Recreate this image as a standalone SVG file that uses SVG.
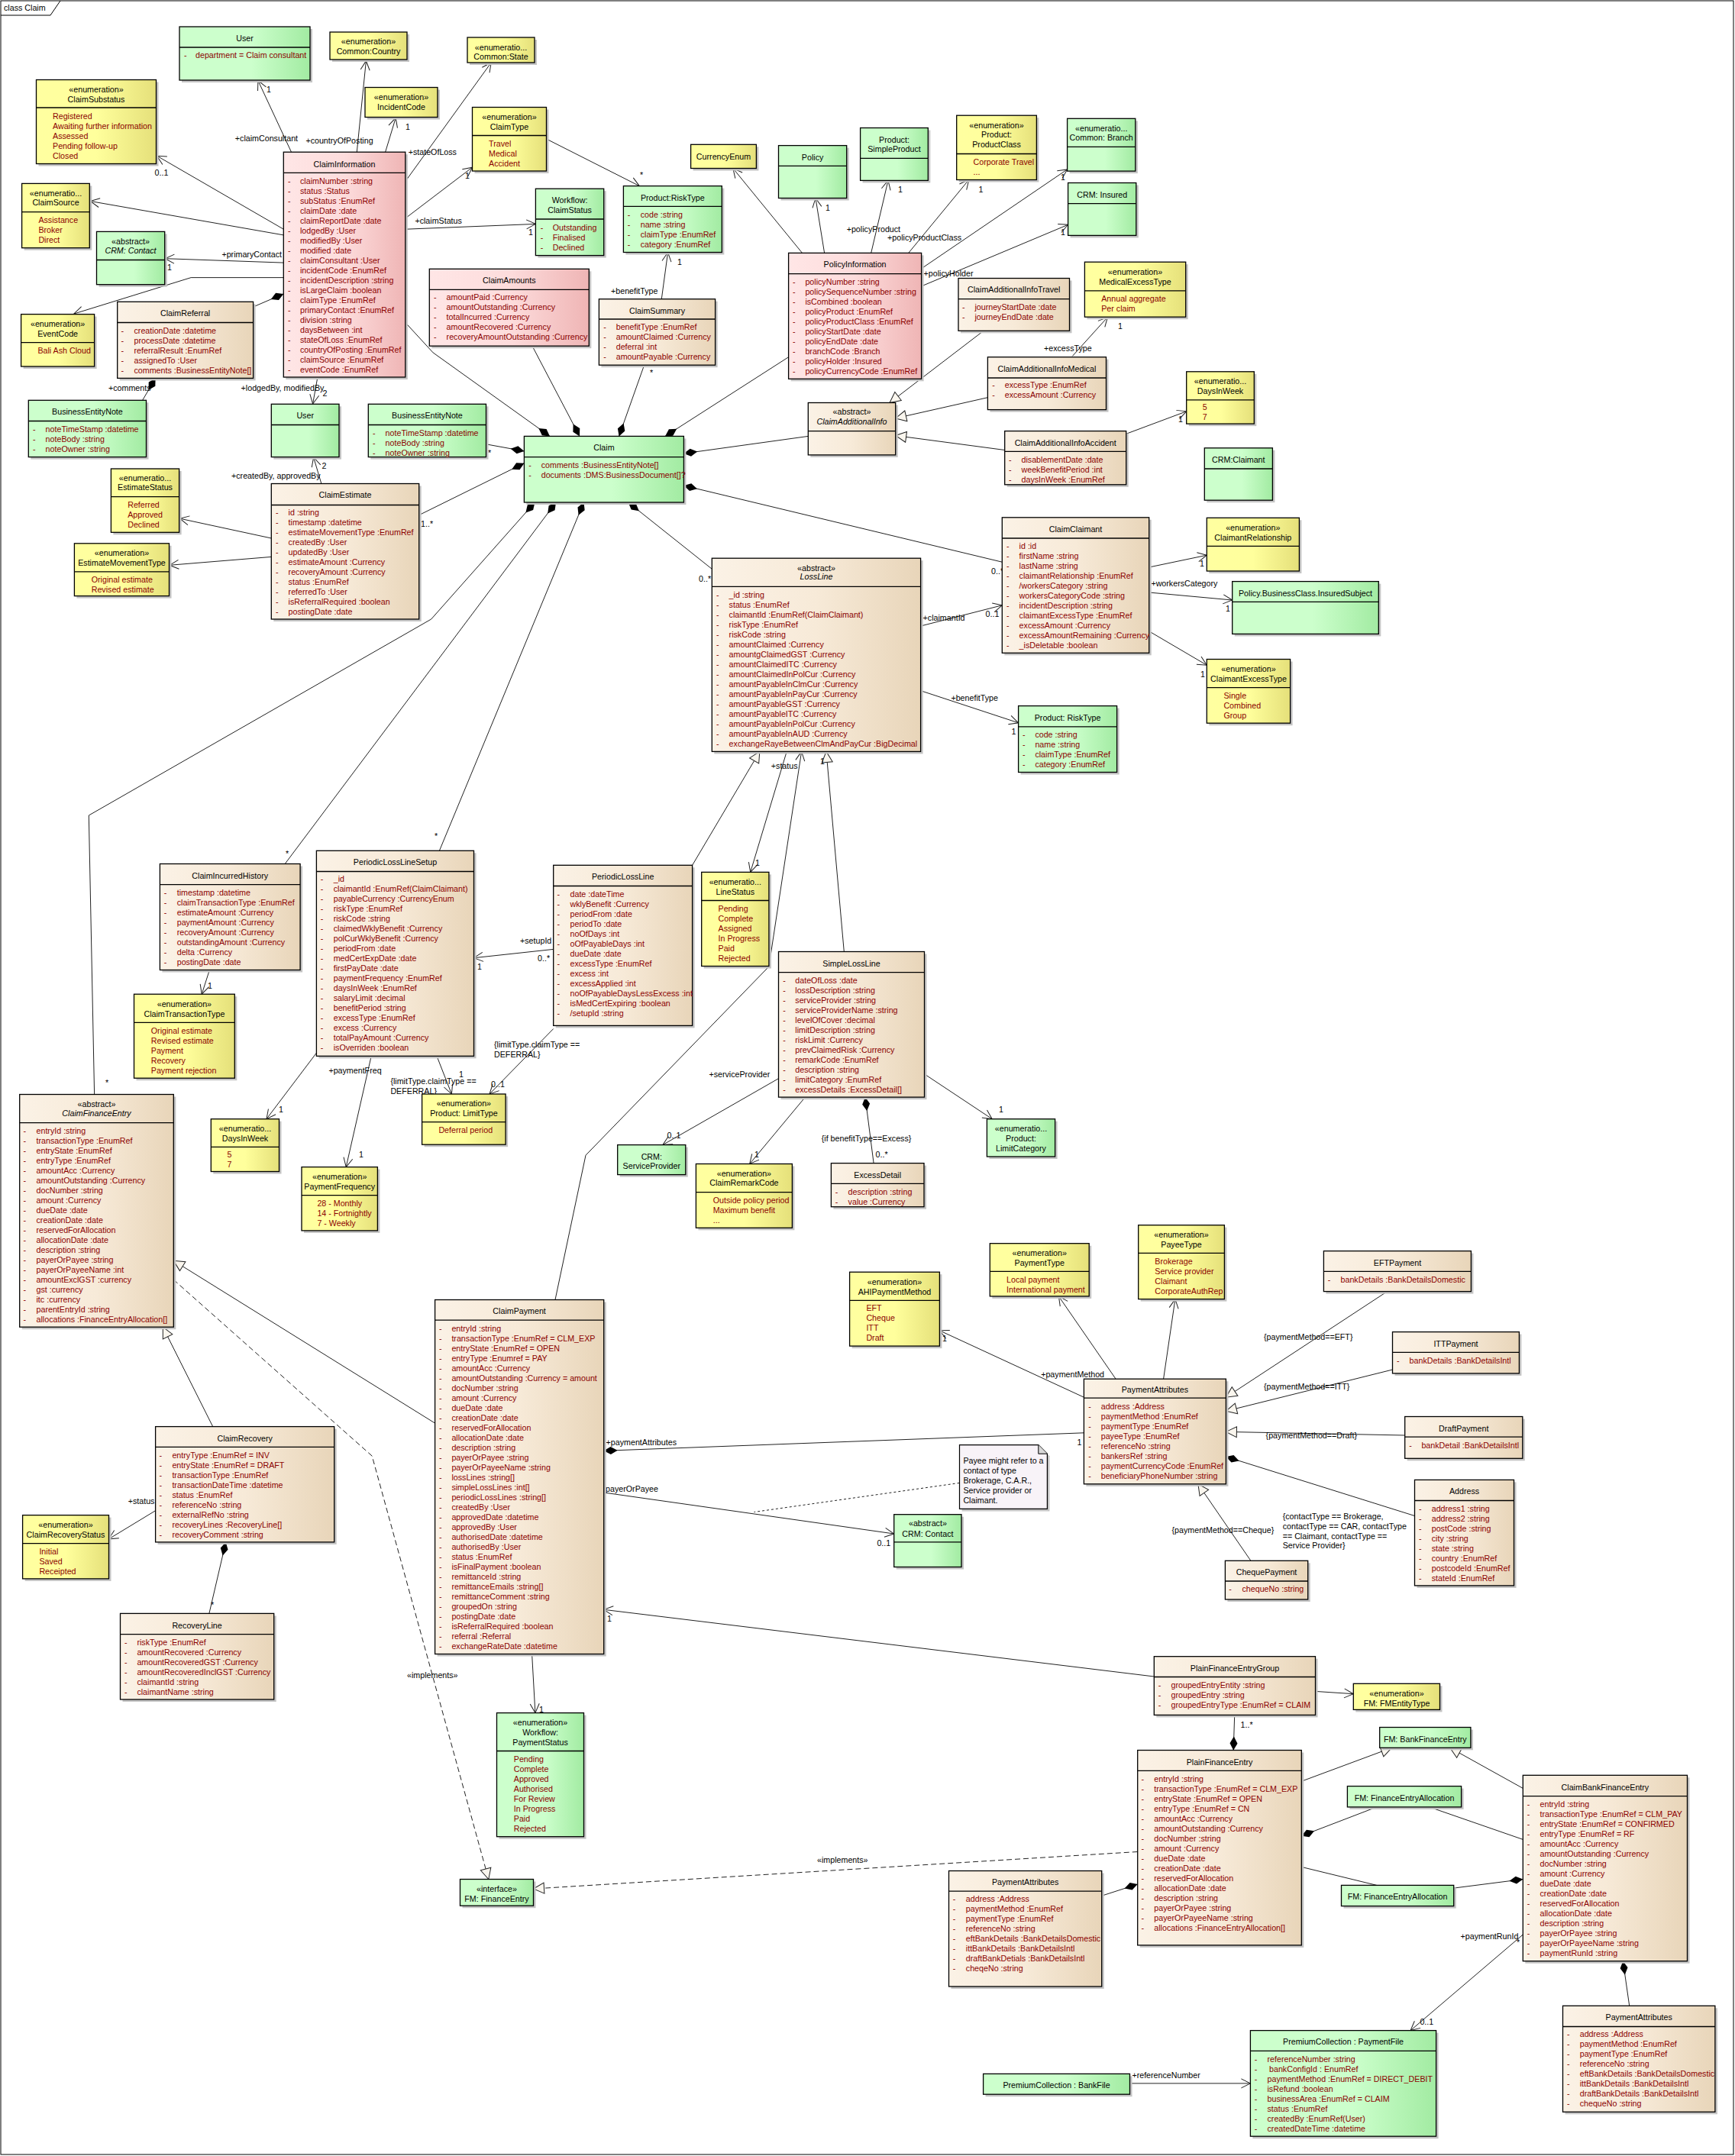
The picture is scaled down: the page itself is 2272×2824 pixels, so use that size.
<svg xmlns="http://www.w3.org/2000/svg" width="2272" height="2824" viewBox="0 0 2272 2824">
<defs>
<linearGradient id="gG" x1="0" y1="0" x2="1" y2="0"><stop offset="0" stop-color="#CCFFCC"/><stop offset="0.55" stop-color="#CCFFCC"/><stop offset="1" stop-color="#A2EBA2"/></linearGradient>
<linearGradient id="gY" x1="0" y1="0" x2="1" y2="0"><stop offset="0" stop-color="#FFFFA0"/><stop offset="0.5" stop-color="#FFFF9C"/><stop offset="1" stop-color="#E5E07A"/></linearGradient>
<linearGradient id="gP" x1="0" y1="0" x2="1" y2="0"><stop offset="0" stop-color="#FFE6E6"/><stop offset="0.5" stop-color="#FDDCDC"/><stop offset="1" stop-color="#EFB5B5"/></linearGradient>
<linearGradient id="gB" x1="0" y1="0" x2="1" y2="0"><stop offset="0" stop-color="#FBF2E6"/><stop offset="0.5" stop-color="#F7EAD8"/><stop offset="1" stop-color="#E8D5B9"/></linearGradient>
<marker id="oa" markerWidth="14" markerHeight="14" refX="12" refY="6" orient="auto" markerUnits="userSpaceOnUse" overflow="visible"><path d="M0,0 L12,6 L0,12" fill="none" stroke="#222" stroke-width="1"/></marker>
<marker id="tr" markerWidth="16" markerHeight="16" refX="14" refY="7" orient="auto" markerUnits="userSpaceOnUse" overflow="visible"><path d="M0,0 L14,7 L0,14 Z" fill="#FAF6EE" stroke="#222" stroke-width="1"/></marker>
<marker id="dm" markerWidth="20" markerHeight="12" refX="0" refY="5" orient="auto" markerUnits="userSpaceOnUse" overflow="visible"><path d="M0,5 L9,0 L18,5 L9,10 Z" fill="#000"/></marker>
</defs>
<style>
.n{stroke:#000;stroke-width:1.3}
.s{fill:#C4C4C4}
.G{fill:url(#gG)} .Y{fill:url(#gY)} .P{fill:url(#gP)} .B{fill:url(#gB)}
.dv{stroke:#000;stroke-width:1.3}
text{font-family:"Liberation Sans",Arial,sans-serif;font-size:10.7px}
.t{fill:#000;text-anchor:middle}
.i{font-style:italic}
.a{fill:#8B0000}
.l{fill:#000}
.c{fill:none;stroke:#222;stroke-width:1}
.dash{stroke-dasharray:7,4}
.dot{stroke-dasharray:3,3}
.ar{marker-end:url(#oa)} .tri{marker-end:url(#tr)} .dia{marker-start:url(#dm)}
</style>
<g id="frame"><rect x="1" y="1" width="2269" height="2821" fill="#fff" stroke="#000"/><path d="M1,20 H66 L79,1" fill="none" stroke="#000"/><text class="l" x="5" y="14">class Claim</text></g>

<g id="connectors">
<path class="c ar" d="M381.5,199.2 L337.9,105.5"/>
<path class="c ar" d="M467.3,199.2 L479.4,79.7"/>
<path class="c ar" d="M504.6,199.2 L518.2,154.4"/>
<path class="c ar" d="M531.7,236.4 L643.2,82"/>
<path class="c ar" d="M531.7,285.3 L618.5,219.2"/>
<path class="c ar" d="M531.7,300.2 L701.4,293.4"/>
<path class="c ar" d="M371.3,300.2 L205.5,204.2"/>
<path class="c ar" d="M371.3,307.9 L118.3,263.5"/>
<path class="c ar" d="M371.3,344.1 L216.2,338.7"/>
<path class="c ar" d="M371.3,363.6 L250.1,363.6 L96.9,411"/>
<path class="c dia" d="M371.3,384.9 L331.6,402"/>
<path class="c dia" d="M203.6,495.4 L186.6,524.3"/>
<path class="c ar" d="M415.9,494 L409.6,529"/>
<path class="c ar" d="M420.7,633 L410.6,599"/>
<path class="c ar" d="M355.3,705 L235.5,679.2"/>
<path class="c ar" d="M355.3,729.4 L222,740.3"/>
<path class="c dia" d="M720,571.4 L567.1,461.9 L531.7,423.4"/>
<path class="c dia" d="M759,571.4 L697,453.2"/>
<path class="c dia" d="M686.4,590.9 L636.5,581.8"/>
<path class="c dia" d="M686.4,606.7 L548.7,674.7"/>
<path class="c dia" d="M700.4,658 L564.7,811 L116.3,1068 L123.6,1433.5"/>
<path class="c dia" d="M728,658 L373.2,1131.5"/>
<path class="c dia" d="M764.5,658 L575.4,1114.3"/>
<path class="c dia" d="M822.7,658 L932.3,745.3"/>
<path class="c dia" d="M895.4,636 L1312.3,736.2"/>
<path class="c dia" d="M895.4,594 L1058.3,571.4"/>
<path class="c dia" d="M871,571.4 L1032.6,467.7"/>
<path class="c dia" d="M810.6,571.4 L843.6,478.2"/>
<path class="c ar" d="M866.3,391.7 L874.6,330.5"/>
<path class="c ar" d="M715.5,182 L837.3,243.6"/>
<path class="c ar" d="M1050.5,331.4 L959.9,220.5"/>
<path class="c ar" d="M1079.6,331.4 L1068,259.5"/>
<path class="c ar" d="M1140.7,331.4 L1163,236.4"/>
<path class="c ar" d="M1189.7,331.4 L1268.7,235.5"/>
<path class="c ar" d="M1206.6,351.8 L1397.6,221.9"/>
<path class="c ar" d="M1206.6,374.9 L1398.6,294.3"/>
<path class="c tri" d="M1288,433.3 L1165,527.5"/>
<path class="c tri" d="M1293.4,520.7 L1172.7,547.9"/>
<path class="c tri" d="M1315.7,589.5 L1172.7,570.5"/>
<path class="c ar" d="M1404.4,466.4 L1450.4,415.5"/>
<path class="c ar" d="M1474.7,568.3 L1553.7,538.8"/>
<path class="c ar" d="M1504.7,743 L1580.3,727.2"/>
<path class="c ar" d="M1504.7,776 L1613.7,786"/>
<path class="c ar" d="M1504.7,826.8 L1580.3,871.2"/>
<path class="c ar" d="M1205.6,820 L1312.3,792.8"/>
<path class="c ar" d="M1205.6,904.7 L1333.6,946.8"/>
<path class="c ar" d="M1030.2,984.4 L982.7,1142.4"/>
<path class="c tri" d="M906.6,1133.3 L994.8,984.4"/>
<path class="c tri" d="M1105.3,1246.5 L1082,984.4"/>
<path class="c ar" d="M727,1702.5 L767,1513.2 L1006.9,1266 L1049.6,984.4"/>
<path class="c ar" d="M724.7,1243.4 L620.5,1254.7"/>
<path class="c ar" d="M724.7,1347.5 L641,1433"/>
<path class="c ar" d="M572,1383.3 L591.4,1433"/>
<path class="c ar" d="M414.4,1379.2 L349,1465.7"/>
<path class="c ar" d="M486.2,1383.3 L453.2,1528.6"/>
<path class="c ar" d="M274.4,1270.5 L264.2,1302.2"/>
<path class="c tri" d="M278.7,1868.6 L213.3,1738.2"/>
<path class="c tri" d="M569.6,1864.1 L227.3,1651.3"/>
<path class="c dash tri" d="M227.3,1676.2 L487.2,1907.1 L639.8,2461.5"/>
<path class="c dia" d="M295.7,2019.9 L273.9,2113.4"/>
<path class="c ar" d="M203.6,1978.7 L142.5,2015.8"/>
<path class="c ar" d="M696.6,2166.5 L700.9,2243.6"/>
<path class="c dia" d="M790.7,1900.3 L1419.4,1876.8"/>
<path class="c ar" d="M790.7,1955 L1170.7,2009"/>
<path class="c dot" d="M1256.5,1942.4 L987.5,1980.5"/>
<path class="c ar" d="M1511.3,2196 L790.7,2108.3"/>
<path class="c ar" d="M1722.5,2215.4 L1772.3,2218.7"/>
<path class="c dia" d="M1615.2,2292.5 L1616.7,2246.4"/>
<path class="c tri" d="M1704.3,2333.2 L1822.5,2289.3"/>
<path class="c tri" d="M1994.3,2342.4 L1898.8,2289.3"/>
<path class="c dia" d="M1704.3,2404.7 L1802.8,2366.9"/>
<path class="c" d="M1871.7,2366.9 L1994.3,2409.4"/>
<path class="c" d="M1704.3,2445.4 L1802.8,2469.4"/>
<path class="c dia" d="M1994.3,2461.5 L1903.7,2473.1"/>
<path class="c dash tri" d="M1489.7,2425.5 L698.5,2474"/>
<path class="c dia" d="M1489.7,2468 L1442.7,2483.2"/>
<path class="c dia" d="M2125.3,2568.7 L2133.7,2627.3"/>
<path class="c ar" d="M1994.3,2534 L1847.1,2659.6"/>
<path class="c ar" d="M1479.5,2728.9 L1637.4,2728.9"/>
<path class="c ar" d="M1419.4,1830.2 L1230.4,1742.8"/>
<path class="c ar" d="M1461.1,1806.2 L1386.4,1697.9"/>
<path class="c ar" d="M1523.6,1806.2 L1538.9,1701.6"/>
<path class="c tri" d="M1816.6,1691.6 L1605.4,1830.2"/>
<path class="c tri" d="M1823.5,1794 L1605.4,1848.3"/>
<path class="c tri" d="M1839.7,1880 L1605.4,1875.4"/>
<path class="c dia" d="M1605.4,1908 L1852.5,1985.5"/>
<path class="c tri" d="M1637.9,2044.3 L1568.9,1943.8"/>
<path class="c ar" d="M1019.5,1412.7 L867.8,1499.6"/>
<path class="c ar" d="M1054.4,1437.1 L981.7,1524.5"/>
<path class="c dia" d="M1133,1437.1 L1144.1,1523.6"/>
<path class="c ar" d="M1210.5,1406.8 L1299.2,1465.7"/>
<text class="l" x="307.8" y="185">+claimConsultant</text>
<text class="l" x="349" y="121">1</text>
<text class="l" x="400.4" y="188">+countryOfPosting</text>
<text class="l" x="531" y="170">1</text>
<text class="l" x="534.7" y="203">+stateOfLoss</text>
<text class="l" x="609" y="234">1</text>
<text class="l" x="543.4" y="293">+claimStatus</text>
<text class="l" x="692" y="308">1</text>
<text class="l" x="202.6" y="229.5">0..1</text>
<text class="l" x="290.4" y="336.8">+primaryContact</text>
<text class="l" x="219" y="354">1</text>
<text class="l" x="142" y="511.6">+comments</text>
<text class="l" x="315.6" y="511.6">+lodgedBy, modifiedBy</text>
<text class="l" x="422.5" y="519">2</text>
<text class="l" x="303" y="626.6">+createdBy, approvedBy</text>
<text class="l" x="421.5" y="614">2</text>
<text class="l" x="639" y="597">*</text>
<text class="l" x="551" y="690">1..*</text>
<text class="l" x="138" y="1422">*</text>
<text class="l" x="374" y="1122">*</text>
<text class="l" x="569" y="1099">*</text>
<text class="l" x="915" y="761.5">0..*</text>
<text class="l" x="1298" y="751.5">0..*</text>
<text class="l" x="851" y="492">*</text>
<text class="l" x="800" y="384.8">+benefitType</text>
<text class="l" x="887" y="346.8">1</text>
<text class="l" x="838" y="232.7">*</text>
<text class="l" x="1081" y="275.7">1</text>
<text class="l" x="1108.7" y="303.8">+policyProduct</text>
<text class="l" x="1176" y="252">1</text>
<text class="l" x="1162" y="314.6">+policyProductClass</text>
<text class="l" x="1281.5" y="251.7">1</text>
<text class="l" x="1389" y="236.3">1</text>
<text class="l" x="1209.5" y="362">+policyHolder</text>
<text class="l" x="1389" y="308.3">1</text>
<text class="l" x="1367" y="460.4">+excessType</text>
<text class="l" x="1464" y="431.4">1</text>
<text class="l" x="1543" y="553.2">1</text>
<text class="l" x="1571" y="742">1</text>
<text class="l" x="1507.4" y="767.8">+workersCategory</text>
<text class="l" x="1605" y="801.3">1</text>
<text class="l" x="1572" y="886.5">1</text>
<text class="l" x="1208.6" y="812.7">+claimantId</text>
<text class="l" x="1290.5" y="808">0..1</text>
<text class="l" x="1245.4" y="917.7">+benefitType</text>
<text class="l" x="1324.5" y="961.6">1</text>
<text class="l" x="1009.8" y="1006.5">+status</text>
<text class="l" x="989" y="1134">1</text>
<text class="l" x="1074" y="1001">1</text>
<text class="l" x="681" y="1235.6">+setupId</text>
<text class="l" x="704" y="1258.7">0..*</text>
<text class="l" x="625" y="1270">1</text>
<text class="l" x="647" y="1371.9">{limitType.claimType ==</text>
<text class="l" x="647" y="1384.6">DEFERRAL}</text>
<text class="l" x="643" y="1424.4">0..1</text>
<text class="l" x="511.4" y="1419.8">{limitType.claimType ==</text>
<text class="l" x="511.4" y="1432.5">DEFERRAL}</text>
<text class="l" x="601" y="1410.5">1</text>
<text class="l" x="365" y="1457.4">1</text>
<text class="l" x="430.4" y="1405.8">+paymentFreq</text>
<text class="l" x="470" y="1516.3">1</text>
<text class="l" x="272" y="1295">1</text>
<text class="l" x="533" y="2197.7">«implements»</text>
<text class="l" x="276" y="2106">*</text>
<text class="l" x="167.7" y="1970.4">+status</text>
<text class="l" x="706" y="2243.4">1</text>
<text class="l" x="793.6" y="1893">+paymentAttributes</text>
<text class="l" x="1410.5" y="1893">1</text>
<text class="l" x="786.8" y="1953.7">+payerOrPayee</text>
<text class="l" x="1148.4" y="2025.2">0..1</text>
<text class="l" x="795" y="2124">1</text>
<text class="l" x="1624.6" y="2263.3">1..*</text>
<text class="l" x="1070" y="2439.7">«implements»</text>
<text class="l" x="1912.6" y="2539.9">+paymentRunId</text>
<text class="l" x="1986" y="2548.2">*</text>
<text class="l" x="1859.4" y="2651.6">0..1</text>
<text class="l" x="1482.4" y="2721.8">+referenceNumber</text>
<text class="l" x="1363.2" y="1803.8">+paymentMethod</text>
<text class="l" x="1234" y="1757.2">1</text>
<text class="l" x="1655" y="1755">{paymentMethod==EFT}</text>
<text class="l" x="1655" y="1819.7">{paymentMethod==ITT}</text>
<text class="l" x="1657.6" y="1884">{paymentMethod==Draft}</text>
<text class="l" x="1679.7" y="1990">{contactType == Brokerage,</text>
<text class="l" x="1679.7" y="2002.6">contactType == CAR, contactType</text>
<text class="l" x="1679.7" y="2015.7">== Claimant, contactType ==</text>
<text class="l" x="1679.7" y="2028.4">Service Provider}</text>
<text class="l" x="1534.5" y="2007.6">{paymentMethod==Cheque}</text>
<text class="l" x="928.4" y="1410.8">+serviceProvider</text>
<text class="l" x="873.6" y="1491.4">0..1</text>
<text class="l" x="988" y="1516.3">1</text>
<text class="l" x="1075.7" y="1494.6">{if benefitType==Excess}</text>
<text class="l" x="1146.5" y="1516.3">0..*</text>
<text class="l" x="1308" y="1457.4">1</text>
</g>

<g id="User_top"><rect class="s" x="238" y="38" width="171" height="70"/><rect class="n G" x="235" y="35" width="171" height="70"/><line class="dv" x1="235" y1="62" x2="406" y2="62"/><text class="t" x="320.5" y="54">User</text><text class="a"><tspan x="241" y="76">-</tspan><tspan x="256">department = Claim consultant</tspan></text></g>

<g id="Common_Country"><rect class="s" x="435" y="45" width="101" height="36"/><rect class="n Y" x="432" y="42" width="101" height="36"/><text class="t" x="482.5" y="58">«enumeration»</text><text class="t" x="482.5" y="70.5">Common:Country</text></g>

<g id="Common_State"><rect class="s" x="615" y="52" width="88" height="33"/><rect class="n Y" x="612" y="49" width="88" height="33"/><text class="t" x="656" y="66">«enumeratio...</text><text class="t" x="656" y="78">Common:State</text></g>

<g id="IncidentCode"><rect class="s" x="481" y="117.5" width="95" height="39"/><rect class="n Y" x="478" y="114.5" width="95" height="39"/><text class="t" x="525.5" y="131">«enumeration»</text><text class="t" x="525.5" y="143.5">IncidentCode</text></g>

<g id="ClaimSubstatus"><rect class="s" x="50.5" y="107.5" width="157" height="110"/><rect class="n Y" x="47.5" y="104.5" width="157" height="110"/><line class="dv" x1="47.5" y1="141" x2="204.5" y2="141"/><text class="t" x="126" y="121">«enumeration»</text><text class="t" x="126" y="133.5">ClaimSubstatus</text><text class="a"><tspan x="69" y="155.7">Registered</tspan><tspan x="69" dy="13">Awaiting further information</tspan><tspan x="69" dy="13">Assessed</tspan><tspan x="69" dy="13">Pending follow-up</tspan><tspan x="69" dy="13">Closed</tspan></text></g>

<g id="ClaimType"><rect class="s" x="621.5" y="143.5" width="97" height="83.5"/><rect class="n Y" x="618.5" y="140.5" width="97" height="83.5"/><line class="dv" x1="618.5" y1="177.5" x2="715.5" y2="177.5"/><text class="t" x="667" y="157">«enumeration»</text><text class="t" x="667" y="169.7">ClaimType</text><text class="a"><tspan x="640" y="191.5">Travel</tspan><tspan x="640" dy="13">Medical</tspan><tspan x="640" dy="13">Accident</tspan></text></g>

<g id="ClaimSource"><rect class="s" x="31.6" y="243.4" width="88.7" height="84.3"/><rect class="n Y" x="28.6" y="240.4" width="88.7" height="84.3"/><line class="dv" x1="28.6" y1="277.6" x2="117.3" y2="277.6"/><text class="t" x="73" y="256.7">«enumeratio...</text><text class="t" x="73" y="269.3">ClaimSource</text><text class="a"><tspan x="50.4" y="292">Assistance</tspan><tspan x="50.4" dy="13">Broker</tspan><tspan x="50.4" dy="13">Direct</tspan></text></g>

<g id="CRM_Contact_top"><rect class="s" x="129.5" y="306.4" width="89.2" height="69.3"/><rect class="n G" x="126.5" y="303.4" width="89.2" height="69.3"/><line class="dv" x1="126.5" y1="340.5" x2="215.7" y2="340.5"/><text class="t" x="171" y="319.6">«abstract»</text><text class="t i" x="171" y="331.8">CRM: Contact</text></g>

<g id="EventCode"><rect class="s" x="30.6" y="414.6" width="96" height="68.4"/><rect class="n Y" x="27.6" y="411.6" width="96" height="68.4"/><line class="dv" x1="27.6" y1="448.7" x2="123.6" y2="448.7"/><text class="t" x="75.6" y="427.8">«enumeration»</text><text class="t" x="75.6" y="440.5">EventCode</text><text class="a" x="49.4" y="462.7">Bali Ash Cloud</text></g>

<g id="ClaimInformation"><rect class="s" x="374.3" y="202.2" width="159.5" height="294.8"/><rect class="n P" x="371.3" y="199.2" width="159.5" height="294.8"/><line class="dv" x1="371.3" y1="226.4" x2="530.8" y2="226.4"/><text class="t" x="451" y="218.6">ClaimInformation</text><text class="a"><tspan x="377" y="240.8">-</tspan><tspan x="393">claimNumber :string</tspan><tspan x="377" dy="13">-</tspan><tspan x="393">status :Status</tspan><tspan x="377" dy="13">-</tspan><tspan x="393">subStatus :EnumRef</tspan><tspan x="377" dy="13">-</tspan><tspan x="393">claimDate :date</tspan><tspan x="377" dy="13">-</tspan><tspan x="393">claimReportDate :date</tspan><tspan x="377" dy="13">-</tspan><tspan x="393">lodgedBy :User</tspan><tspan x="377" dy="13">-</tspan><tspan x="393">modifiedBy :User</tspan><tspan x="377" dy="13">-</tspan><tspan x="393">modified :date</tspan><tspan x="377" dy="13">-</tspan><tspan x="393">claimConsultant :User</tspan><tspan x="377" dy="13">-</tspan><tspan x="393">incidentCode :EnumRef</tspan><tspan x="377" dy="13">-</tspan><tspan x="393">incidentDescription :string</tspan><tspan x="377" dy="13">-</tspan><tspan x="393">isLargeClaim :boolean</tspan><tspan x="377" dy="13">-</tspan><tspan x="393">claimType :EnumRef</tspan><tspan x="377" dy="13">-</tspan><tspan x="393">primaryContact :EnumRef</tspan><tspan x="377" dy="13">-</tspan><tspan x="393">division :string</tspan><tspan x="377" dy="13">-</tspan><tspan x="393">daysBetween :int</tspan><tspan x="377" dy="13">-</tspan><tspan x="393">stateOfLoss :EnumRef</tspan><tspan x="377" dy="13">-</tspan><tspan x="393">countryOfPosting :EnumRef</tspan><tspan x="377" dy="13">-</tspan><tspan x="393">claimSource :EnumRef</tspan><tspan x="377" dy="13">-</tspan><tspan x="393">eventCode :EnumRef</tspan></text></g>

<g id="ClaimReferral"><rect class="s" x="156.7" y="398.3" width="177.9" height="100.1"/><rect class="n B" x="153.7" y="395.3" width="177.9" height="100.1"/><line class="dv" x1="153.7" y1="422.5" x2="331.6" y2="422.5"/><text class="t" x="242.6" y="414.2">ClaimReferral</text><text class="a"><tspan x="158.5" y="436.9">-</tspan><tspan x="175.5">creationDate :datetime</tspan><tspan x="158.5" dy="13">-</tspan><tspan x="175.5">processDate :datetime</tspan><tspan x="158.5" dy="13">-</tspan><tspan x="175.5">referralResult :EnumRef</tspan><tspan x="158.5" dy="13">-</tspan><tspan x="175.5">assignedTo :User</tspan><tspan x="158.5" dy="13">-</tspan><tspan x="175.5">comments :BusinessEntityNote[]</tspan></text></g>

<g id="BusinessEntityNote_left"><rect class="s" x="40.3" y="527.3" width="154.2" height="74.3"/><rect class="n G" x="37.3" y="524.3" width="154.2" height="74.3"/><line class="dv" x1="37.3" y1="551.5" x2="191.5" y2="551.5"/><text class="t" x="114.4" y="543.3">BusinessEntityNote</text><text class="a"><tspan x="43" y="566">-</tspan><tspan x="59.6">noteTimeStamp :datetime</tspan><tspan x="43" dy="13">-</tspan><tspan x="59.6">noteBody :string</tspan><tspan x="43" dy="13">-</tspan><tspan x="59.6">noteOwner :string</tspan></text></g>

<g id="User_mid"><rect class="s" x="358.3" y="532.3" width="88.7" height="69.3"/><rect class="n G" x="355.3" y="529.3" width="88.7" height="69.3"/><line class="dv" x1="355.3" y1="556.5" x2="444" y2="556.5"/><text class="t" x="399.7" y="548.3">User</text></g>

<g id="BusinessEntityNote_right"><rect class="s" x="485.3" y="532.3" width="154.2" height="69.3"/><rect class="n G" x="482.3" y="529.3" width="154.2" height="69.3"/><line class="dv" x1="482.3" y1="556.5" x2="636.5" y2="556.5"/><text class="t" x="559.4" y="548.3">BusinessEntityNote</text><text class="a"><tspan x="488" y="571">-</tspan><tspan x="504.6">noteTimeStamp :datetime</tspan><tspan x="488" dy="13">-</tspan><tspan x="504.6">noteBody :string</tspan><tspan x="488" dy="13">-</tspan><tspan x="504.6">noteOwner :string</tspan></text></g>

<g id="EstimateStatus"><rect class="s" x="148.4" y="617" width="89.2" height="83.3"/><rect class="n Y" x="145.4" y="614" width="89.2" height="83.3"/><line class="dv" x1="145.4" y1="650.7" x2="234.6" y2="650.7"/><text class="t" x="190" y="629.8">«enumeratio...</text><text class="t" x="190" y="642.4">EstimateStatus</text><text class="a"><tspan x="167.2" y="664.6">Referred</tspan><tspan x="167.2" dy="13">Approved</tspan><tspan x="167.2" dy="13">Declined</tspan></text></g>

<g id="ClaimEstimate"><rect class="s" x="358.3" y="636.5" width="193.4" height="177.5"/><rect class="n B" x="355.3" y="633.5" width="193.4" height="177.5"/><line class="dv" x1="355.3" y1="661.5" x2="548.7" y2="661.5"/><text class="t" x="452" y="652.4">ClaimEstimate</text><text class="a"><tspan x="361" y="674.6">-</tspan><tspan x="377.6">id :string</tspan><tspan x="361" dy="13">-</tspan><tspan x="377.6">timestamp :datetime</tspan><tspan x="361" dy="13">-</tspan><tspan x="377.6">estimateMovementType :EnumRef</tspan><tspan x="361" dy="13">-</tspan><tspan x="377.6">createdBy :User</tspan><tspan x="361" dy="13">-</tspan><tspan x="377.6">updatedBy :User</tspan><tspan x="361" dy="13">-</tspan><tspan x="377.6">estimateAmount :Currency</tspan><tspan x="361" dy="13">-</tspan><tspan x="377.6">recoveryAmount :Currency</tspan><tspan x="361" dy="13">-</tspan><tspan x="377.6">status :EnumRef</tspan><tspan x="361" dy="13">-</tspan><tspan x="377.6">referredTo :User</tspan><tspan x="361" dy="13">-</tspan><tspan x="377.6">isReferralRequired :boolean</tspan><tspan x="361" dy="13">-</tspan><tspan x="377.6">postingDate :date</tspan></text></g>

<g id="Claim"><rect class="s" x="689.4" y="574.4" width="209" height="86.6"/><rect class="n G" x="686.4" y="571.4" width="209" height="86.6"/><line class="dv" x1="686.4" y1="598.6" x2="895.4" y2="598.6"/><text class="t" x="790.9" y="590.4">Claim</text><text class="a"><tspan x="692.2" y="612.6">-</tspan><tspan x="708.7">comments :BusinessEntityNote[]</tspan><tspan x="692.2" dy="13">-</tspan><tspan x="708.7">documents :DMS:BusinessDocument[]?</tspan></text></g>

<g id="Workflow_ClaimStatus"><rect class="s" x="704.4" y="250.2" width="89.3" height="87.4"/><rect class="n G" x="701.4" y="247.2" width="89.3" height="87.4"/><line class="dv" x1="701.4" y1="287" x2="790.7" y2="287"/><text class="t" x="746" y="266">Workflow:</text><text class="t" x="746" y="279.3">ClaimStatus</text><text class="a"><tspan x="707.7" y="301.5">-</tspan><tspan x="723.7">Outstanding</tspan><tspan x="707.7" dy="13">-</tspan><tspan x="723.7">Finalised</tspan><tspan x="707.7" dy="13">-</tspan><tspan x="723.7">Declined</tspan></text></g>

<g id="ClaimAmounts"><rect class="s" x="565.3" y="355.3" width="209" height="100.9"/><rect class="n P" x="562.3" y="352.3" width="209" height="100.9"/><line class="dv" x1="562.3" y1="379.4" x2="771.3" y2="379.4"/><text class="t" x="666.8" y="371.2">ClaimAmounts</text><text class="a"><tspan x="568" y="393.4">-</tspan><tspan x="584.6">amountPaid :Currency</tspan><tspan x="568" dy="13">-</tspan><tspan x="584.6">amountOutstanding :Currency</tspan><tspan x="568" dy="13">-</tspan><tspan x="584.6">totalIncurred :Currency</tspan><tspan x="568" dy="13">-</tspan><tspan x="584.6">amountRecovered :Currency</tspan><tspan x="568" dy="13">-</tspan><tspan x="584.6">recoveryAmountOutstanding :Currency</tspan></text></g>

<g id="Product_RiskType_top"><rect class="s" x="819.4" y="246.6" width="128.9" height="86.9"/><rect class="n G" x="816.4" y="243.6" width="128.9" height="86.9"/><line class="dv" x1="816.4" y1="270.3" x2="945.3" y2="270.3"/><text class="t" x="880.8" y="262.5">Product:RiskType</text><text class="a"><tspan x="821.7" y="284.7">-</tspan><tspan x="838.7">code :string</tspan><tspan x="821.7" dy="13">-</tspan><tspan x="838.7">name :string</tspan><tspan x="821.7" dy="13">-</tspan><tspan x="838.7">claimType :EnumRef</tspan><tspan x="821.7" dy="13">-</tspan><tspan x="838.7">category :EnumRef</tspan></text></g>

<g id="CurrencyEnum"><rect class="s" x="907.6" y="192.3" width="85.8" height="31.2"/><rect class="n Y" x="904.6" y="189.3" width="85.8" height="31.2"/><text class="t" x="947.5" y="208.7">CurrencyEnum</text></g>

<g id="Policy"><rect class="s" x="1022.5" y="193.6" width="89.2" height="68.9"/><rect class="n G" x="1019.5" y="190.6" width="89.2" height="68.9"/><line class="dv" x1="1019.5" y1="217.3" x2="1108.7" y2="217.3"/><text class="t" x="1064.1" y="209.6">Policy</text></g>

<g id="Product_SimpleProduct"><rect class="s" x="1129.6" y="170.5" width="88.7" height="68.9"/><rect class="n G" x="1126.6" y="167.5" width="88.7" height="68.9"/><line class="dv" x1="1126.6" y1="207.4" x2="1215.3" y2="207.4"/><text class="t" x="1171" y="186.5">Product:</text><text class="t" x="1171" y="199.2">SimpleProduct</text></g>

<g id="Product_ProductClass"><rect class="s" x="1255.7" y="154.2" width="104.7" height="84.3"/><rect class="n Y" x="1252.7" y="151.2" width="104.7" height="84.3"/><line class="dv" x1="1252.7" y1="201.5" x2="1357.4" y2="201.5"/><text class="t" x="1305" y="167.5">«enumeration»</text><text class="t" x="1305" y="180.1">Product:</text><text class="t" x="1305" y="193.3">ProductClass</text><text class="a"><tspan x="1274.5" y="215.5">Corporate Travel</tspan><tspan x="1274.5" y="229">...</tspan></text></g>

<g id="Common_Branch"><rect class="s" x="1400.6" y="158.3" width="89.2" height="68.8"/><rect class="n G" x="1397.6" y="155.3" width="89.2" height="68.8"/><line class="dv" x1="1397.6" y1="192.4" x2="1486.8" y2="192.4"/><text class="t" x="1442.2" y="172">«enumeratio...</text><text class="t" x="1442.2" y="184.2">Common: Branch</text></g>

<g id="CRM_Insured"><rect class="s" x="1401.6" y="242.5" width="89.2" height="68.9"/><rect class="n G" x="1398.6" y="239.5" width="89.2" height="68.9"/><line class="dv" x1="1398.6" y1="266.7" x2="1487.8" y2="266.7"/><text class="t" x="1443.2" y="258.5">CRM: Insured</text></g>

<g id="ClaimSummary"><rect class="s" x="787.4" y="394.7" width="152.2" height="86.5"/><rect class="n B" x="784.4" y="391.7" width="152.2" height="86.5"/><line class="dv" x1="784.4" y1="418" x2="936.6" y2="418"/><text class="t" x="860.5" y="410.6">ClaimSummary</text><text class="a"><tspan x="790.2" y="432.3">-</tspan><tspan x="806.7">benefitType :EnumRef</tspan><tspan x="790.2" dy="13">-</tspan><tspan x="806.7">amountClaimed :Currency</tspan><tspan x="790.2" dy="13">-</tspan><tspan x="806.7">deferral :int</tspan><tspan x="790.2" dy="13">-</tspan><tspan x="806.7">amountPayable :Currency</tspan></text></g>

<g id="PolicyInformation"><rect class="s" x="1035.6" y="334.4" width="174" height="164.9"/><rect class="n P" x="1032.6" y="331.4" width="174" height="164.9"/><line class="dv" x1="1032.6" y1="358.6" x2="1206.6" y2="358.6"/><text class="t" x="1119.6" y="350.4">PolicyInformation</text><text class="a"><tspan x="1038" y="372.6">-</tspan><tspan x="1054.4">policyNumber :string</tspan><tspan x="1038" dy="13">-</tspan><tspan x="1054.4">policySequenceNumber :string</tspan><tspan x="1038" dy="13">-</tspan><tspan x="1054.4">isCombined :boolean</tspan><tspan x="1038" dy="13">-</tspan><tspan x="1054.4">policyProduct :EnumRef</tspan><tspan x="1038" dy="13">-</tspan><tspan x="1054.4">policyProductClass :EnumRef</tspan><tspan x="1038" dy="13">-</tspan><tspan x="1054.4">policyStartDate :date</tspan><tspan x="1038" dy="13">-</tspan><tspan x="1054.4">policyEndDate :date</tspan><tspan x="1038" dy="13">-</tspan><tspan x="1054.4">branchCode :Branch</tspan><tspan x="1038" dy="13">-</tspan><tspan x="1054.4">policyHolder :Insured</tspan><tspan x="1038" dy="13">-</tspan><tspan x="1054.4">policyCurrencyCode :EnumRef</tspan></text></g>

<g id="ClaimAdditionalInfoTravel"><rect class="s" x="1258" y="367.5" width="145.5" height="68.8"/><rect class="n B" x="1255" y="364.5" width="145.5" height="68.8"/><line class="dv" x1="1255" y1="391.7" x2="1400.5" y2="391.7"/><text class="t" x="1327.7" y="383.4">ClaimAdditionalInfoTravel</text><text class="a"><tspan x="1260" y="405.6">-</tspan><tspan x="1276.4">journeyStartDate :date</tspan><tspan x="1260" dy="13">-</tspan><tspan x="1276.4">journeyEndDate :date</tspan></text></g>

<g id="MedicalExcessType"><rect class="s" x="1423.4" y="346.2" width="132.3" height="72"/><rect class="n Y" x="1420.4" y="343.2" width="132.3" height="72"/><line class="dv" x1="1420.4" y1="380.8" x2="1552.7" y2="380.8"/><text class="t" x="1486.5" y="360">«enumeration»</text><text class="t" x="1486.5" y="372.6">MedicalExcessType</text><text class="a"><tspan x="1442.2" y="394.8">Annual aggregate</tspan><tspan x="1442.2" dy="13">Per claim</tspan></text></g>

<g id="ClaimAdditionalInfoMedical"><rect class="s" x="1296.4" y="470.7" width="155.1" height="68.9"/><rect class="n B" x="1293.4" y="467.7" width="155.1" height="68.9"/><line class="dv" x1="1293.4" y1="495" x2="1448.5" y2="495"/><text class="t" x="1371" y="486.7">ClaimAdditionalInfoMedical</text><text class="a"><tspan x="1299.2" y="508.4">-</tspan><tspan x="1315.7">excessType :EnumRef</tspan><tspan x="1299.2" dy="13">-</tspan><tspan x="1315.7">excessAmount :Currency</tspan></text></g>

<g id="ClaimAdditionalInfo"><rect class="s" x="1061.3" y="530.5" width="114.4" height="68.4"/><rect class="n B" x="1058.3" y="527.5" width="114.4" height="68.4"/><line class="dv" x1="1058.3" y1="564.6" x2="1172.7" y2="564.6"/><text class="t" x="1115.5" y="543.3">«abstract»</text><text class="t i" x="1115.5" y="555.5">ClaimAdditionalInfo</text></g>

<g id="ClaimAdditionalInfoAccident"><rect class="s" x="1318.7" y="567.6" width="159" height="70.2"/><rect class="n B" x="1315.7" y="564.6" width="159" height="70.2"/><line class="dv" x1="1315.7" y1="591.4" x2="1474.7" y2="591.4"/><text class="t" x="1395.2" y="583.6">ClaimAdditionalInfoAccident</text><text class="a"><tspan x="1321" y="605.8">-</tspan><tspan x="1337.5">disablementDate :date</tspan><tspan x="1321" dy="13">-</tspan><tspan x="1337.5">weekBenefitPeriod :int</tspan><tspan x="1321" dy="13">-</tspan><tspan x="1337.5">daysInWeek :EnumRef</tspan></text></g>

<g id="ClaimClaimant"><rect class="s" x="1315.3" y="680.8" width="192.4" height="177.5"/><rect class="n B" x="1312.3" y="677.8" width="192.4" height="177.5"/><line class="dv" x1="1312.3" y1="705" x2="1504.7" y2="705"/><text class="t" x="1408.5" y="696.8">ClaimClaimant</text><text class="a"><tspan x="1318" y="718.5">-</tspan><tspan x="1334.6">id :id</tspan><tspan x="1318" dy="13">-</tspan><tspan x="1334.6">firstName :string</tspan><tspan x="1318" dy="13">-</tspan><tspan x="1334.6">lastName :string</tspan><tspan x="1318" dy="13">-</tspan><tspan x="1334.6">claimantRelationship :EnumRef</tspan><tspan x="1318" dy="13">-</tspan><tspan x="1334.6">/workersCategory :string</tspan><tspan x="1318" dy="13">-</tspan><tspan x="1334.6">workersCategoryCode :string</tspan><tspan x="1318" dy="13">-</tspan><tspan x="1334.6">incidentDescription :string</tspan><tspan x="1318" dy="13">-</tspan><tspan x="1334.6">claimantExcessType :EnumRef</tspan><tspan x="1318" dy="13">-</tspan><tspan x="1334.6">excessAmount :Currency</tspan><tspan x="1318" dy="13">-</tspan><tspan x="1334.6">excessAmountRemaining :Currency</tspan><tspan x="1318" dy="13">-</tspan><tspan x="1334.6">_isDeletable :boolean</tspan></text></g>

<g id="DaysInWeek_right"><rect class="s" x="1556.7" y="489.8" width="88.6" height="68.3"/><rect class="n Y" x="1553.7" y="486.8" width="88.6" height="68.3"/><line class="dv" x1="1553.7" y1="523.9" x2="1642.3" y2="523.9"/><text class="t" x="1598" y="503">«enumeratio...</text><text class="t" x="1598" y="515.7">DaysInWeek</text><text class="a"><tspan x="1574.8" y="537.4">5</tspan><tspan x="1574.8" dy="13">7</tspan></text></g>

<g id="CRM_Claimant"><rect class="s" x="1580.3" y="589.8" width="89.1" height="68.4"/><rect class="n G" x="1577.3" y="586.8" width="89.1" height="68.4"/><line class="dv" x1="1577.3" y1="614" x2="1666.4" y2="614"/><text class="t" x="1621.8" y="605.8">CRM:Claimant</text></g>

<g id="ClaimantRelationship"><rect class="s" x="1583.3" y="681.3" width="121.1" height="69.7"/><rect class="n Y" x="1580.3" y="678.3" width="121.1" height="69.7"/><line class="dv" x1="1580.3" y1="715.4" x2="1701.4" y2="715.4"/><text class="t" x="1640.8" y="695">«enumeration»</text><text class="t" x="1640.8" y="707.6">ClaimantRelationship</text></g>

<g id="InsuredSubject"><rect class="s" x="1616.7" y="764.6" width="191.6" height="68.8"/><rect class="n G" x="1613.7" y="761.6" width="191.6" height="68.8"/><line class="dv" x1="1613.7" y1="788.3" x2="1805.3" y2="788.3"/><text class="t" x="1709.5" y="780.5">Policy.BusinessClass.InsuredSubject</text></g>

<g id="ClaimantExcessType"><rect class="s" x="1583.3" y="866.5" width="109.3" height="83.7"/><rect class="n Y" x="1580.3" y="863.5" width="109.3" height="83.7"/><line class="dv" x1="1580.3" y1="900.6" x2="1689.6" y2="900.6"/><text class="t" x="1635" y="879.7">«enumeration»</text><text class="t" x="1635" y="892.8">ClaimantExcessType</text><text class="a"><tspan x="1602.4" y="915">Single</tspan><tspan x="1602.4" dy="13">Combined</tspan><tspan x="1602.4" dy="13">Group</tspan></text></g>

<g id="EstimateMovementType"><rect class="s" x="100.4" y="714.8" width="124.1" height="68.8"/><rect class="n Y" x="97.4" y="711.8" width="124.1" height="68.8"/><line class="dv" x1="97.4" y1="748.9" x2="221.5" y2="748.9"/><text class="t" x="159.5" y="727.5">«enumeration»</text><text class="t" x="159.5" y="740.7">EstimateMovementType</text><text class="a"><tspan x="119.7" y="762.9">Original estimate</tspan><tspan x="119.7" dy="13">Revised estimate</tspan></text></g>

<g id="ClaimIncurredHistory"><rect class="s" x="212.4" y="1134.5" width="183.7" height="139"/><rect class="n B" x="209.4" y="1131.5" width="183.7" height="139"/><line class="dv" x1="209.4" y1="1158.7" x2="393.1" y2="1158.7"/><text class="t" x="301.2" y="1150.5">ClaimIncurredHistory</text><text class="a"><tspan x="214.7" y="1172.6">-</tspan><tspan x="231.7">timestamp :datetime</tspan><tspan x="214.7" dy="13">-</tspan><tspan x="231.7">claimTransactionType :EnumRef</tspan><tspan x="214.7" dy="13">-</tspan><tspan x="231.7">estimateAmount :Currency</tspan><tspan x="214.7" dy="13">-</tspan><tspan x="231.7">paymentAmount :Currency</tspan><tspan x="214.7" dy="13">-</tspan><tspan x="231.7">recoveryAmount :Currency</tspan><tspan x="214.7" dy="13">-</tspan><tspan x="231.7">outstandingAmount :Currency</tspan><tspan x="214.7" dy="13">-</tspan><tspan x="231.7">delta :Currency</tspan><tspan x="214.7" dy="13">-</tspan><tspan x="231.7">postingDate :date</tspan></text></g>

<g id="PeriodicLossLineSetup"><rect class="s" x="417.4" y="1117.3" width="206.1" height="269"/><rect class="n B" x="414.4" y="1114.3" width="206.1" height="269"/><line class="dv" x1="414.4" y1="1141.5" x2="620.5" y2="1141.5"/><text class="t" x="517.5" y="1133.2">PeriodicLossLineSetup</text><text class="a"><tspan x="419.8" y="1155.4">-</tspan><tspan x="436.7">_id</tspan><tspan x="419.8" dy="13">-</tspan><tspan x="436.7">claimantId :EnumRef(ClaimClaimant)</tspan><tspan x="419.8" dy="13">-</tspan><tspan x="436.7">payableCurrency :CurrencyEnum</tspan><tspan x="419.8" dy="13">-</tspan><tspan x="436.7">riskType :EnumRef</tspan><tspan x="419.8" dy="13">-</tspan><tspan x="436.7">riskCode :string</tspan><tspan x="419.8" dy="13">-</tspan><tspan x="436.7">claimedWklyBenefit :Currency</tspan><tspan x="419.8" dy="13">-</tspan><tspan x="436.7">polCurWklyBenefit :Currency</tspan><tspan x="419.8" dy="13">-</tspan><tspan x="436.7">periodFrom :date</tspan><tspan x="419.8" dy="13">-</tspan><tspan x="436.7">medCertExpDate :date</tspan><tspan x="419.8" dy="13">-</tspan><tspan x="436.7">firstPayDate :date</tspan><tspan x="419.8" dy="13">-</tspan><tspan x="436.7">paymentFrequency :EnumRef</tspan><tspan x="419.8" dy="13">-</tspan><tspan x="436.7">daysInWeek :EnumRef</tspan><tspan x="419.8" dy="13">-</tspan><tspan x="436.7">salaryLimit :decimal</tspan><tspan x="419.8" dy="13">-</tspan><tspan x="436.7">benefitPeriod :string</tspan><tspan x="419.8" dy="13">-</tspan><tspan x="436.7">excessType :EnumRef</tspan><tspan x="419.8" dy="13">-</tspan><tspan x="436.7">excess :Currency</tspan><tspan x="419.8" dy="13">-</tspan><tspan x="436.7">totalPayAmount :Currency</tspan><tspan x="419.8" dy="13">-</tspan><tspan x="436.7">isOverriden :boolean</tspan></text></g>

<g id="ClaimTransactionType"><rect class="s" x="178.5" y="1305.2" width="131.8" height="110"/><rect class="n Y" x="175.5" y="1302.2" width="131.8" height="110"/><line class="dv" x1="175.5" y1="1339.4" x2="307.3" y2="1339.4"/><text class="t" x="241.4" y="1318.9">«enumeration»</text><text class="t" x="241.4" y="1331.6">ClaimTransactionType</text><text class="a"><tspan x="197.8" y="1353.8">Original estimate</tspan><tspan x="197.8" dy="13">Revised estimate</tspan><tspan x="197.8" dy="13">Payment</tspan><tspan x="197.8" dy="13">Recovery</tspan><tspan x="197.8" dy="13">Payment rejection</tspan></text></g>

<g id="PeriodicLossLine"><rect class="s" x="727.7" y="1136.3" width="181.9" height="210.1"/><rect class="n B" x="724.7" y="1133.3" width="181.9" height="210.1"/><line class="dv" x1="724.7" y1="1160.5" x2="906.6" y2="1160.5"/><text class="t" x="815.7" y="1152.3">PeriodicLossLine</text><text class="a"><tspan x="729.5" y="1174.9">-</tspan><tspan x="746.5">date :dateTime</tspan><tspan x="729.5" dy="13">-</tspan><tspan x="746.5">wklyBenefit :Currency</tspan><tspan x="729.5" dy="13">-</tspan><tspan x="746.5">periodFrom :date</tspan><tspan x="729.5" dy="13">-</tspan><tspan x="746.5">periodTo :date</tspan><tspan x="729.5" dy="13">-</tspan><tspan x="746.5">noOfDays :int</tspan><tspan x="729.5" dy="13">-</tspan><tspan x="746.5">oOfPayableDays :int</tspan><tspan x="729.5" dy="13">-</tspan><tspan x="746.5">dueDate :date</tspan><tspan x="729.5" dy="13">-</tspan><tspan x="746.5">excessType :EnumRef</tspan><tspan x="729.5" dy="13">-</tspan><tspan x="746.5">excess :int</tspan><tspan x="729.5" dy="13">-</tspan><tspan x="746.5">excessApplied :int</tspan><tspan x="729.5" dy="13">-</tspan><tspan x="746.5">noOfPayableDaysLessExcess :int</tspan><tspan x="729.5" dy="13">-</tspan><tspan x="746.5">isMedCertExpiring :boolean</tspan><tspan x="729.5" dy="13">-</tspan><tspan x="746.5">/setupId :string</tspan></text></g>

<g id="LossLine"><rect class="s" x="935.3" y="734.2" width="273.3" height="253.2"/><rect class="n B" x="932.3" y="731.2" width="273.3" height="253.2"/><line class="dv" x1="932.3" y1="768.4" x2="1205.6" y2="768.4"/><text class="t" x="1069" y="747.5">«abstract»</text><text class="t i" x="1069" y="759.2">LossLine</text><text class="a"><tspan x="938" y="782.8">-</tspan><tspan x="954.6">_id :string</tspan><tspan x="938" dy="13">-</tspan><tspan x="954.6">status :EnumRef</tspan><tspan x="938" dy="13">-</tspan><tspan x="954.6">claimantId :EnumRef(ClaimClaimant)</tspan><tspan x="938" dy="13">-</tspan><tspan x="954.6">riskType :EnumRef</tspan><tspan x="938" dy="13">-</tspan><tspan x="954.6">riskCode :string</tspan><tspan x="938" dy="13">-</tspan><tspan x="954.6">amountClaimed :Currency</tspan><tspan x="938" dy="13">-</tspan><tspan x="954.6">amountgClaimedGST :Currency</tspan><tspan x="938" dy="13">-</tspan><tspan x="954.6">amountClaimedITC :Currency</tspan><tspan x="938" dy="13">-</tspan><tspan x="954.6">amountClaimedInPolCur :Currency</tspan><tspan x="938" dy="13">-</tspan><tspan x="954.6">amountPayableInClmCur :Currency</tspan><tspan x="938" dy="13">-</tspan><tspan x="954.6">amountPayableInPayCur :Currency</tspan><tspan x="938" dy="13">-</tspan><tspan x="954.6">amountPayableGST :Currency</tspan><tspan x="938" dy="13">-</tspan><tspan x="954.6">amountPayableITC :Currency</tspan><tspan x="938" dy="13">-</tspan><tspan x="954.6">amountPayableInPolCur :Currency</tspan><tspan x="938" dy="13">-</tspan><tspan x="954.6">amountPayableInAUD :Currency</tspan><tspan x="938" dy="13">-</tspan><tspan x="954.6">exchangeRayeBetweenClmAndPayCur :BigDecimal</tspan></text></g>

<g id="Product_RiskType_mid"><rect class="s" x="1336.6" y="927.6" width="129" height="86.9"/><rect class="n G" x="1333.6" y="924.6" width="129" height="86.9"/><line class="dv" x1="1333.6" y1="951.8" x2="1462.6" y2="951.8"/><text class="t" x="1398.1" y="943.5">Product: RiskType</text><text class="a"><tspan x="1339" y="965.7">-</tspan><tspan x="1355.4">code :string</tspan><tspan x="1339" dy="13">-</tspan><tspan x="1355.4">name :string</tspan><tspan x="1339" dy="13">-</tspan><tspan x="1355.4">claimType :EnumRef</tspan><tspan x="1339" dy="13">-</tspan><tspan x="1355.4">category :EnumRef</tspan></text></g>

<g id="LineStatus"><rect class="s" x="921.7" y="1145.4" width="88.2" height="123.1"/><rect class="n Y" x="918.7" y="1142.4" width="88.2" height="123.1"/><line class="dv" x1="918.7" y1="1179.5" x2="1006.9" y2="1179.5"/><text class="t" x="962.8" y="1158.6">«enumeratio...</text><text class="t" x="962.8" y="1171.7">LineStatus</text><text class="a"><tspan x="940.5" y="1193.5">Pending</tspan><tspan x="940.5" dy="13">Complete</tspan><tspan x="940.5" dy="13">Assigned</tspan><tspan x="940.5" dy="13">In Progress</tspan><tspan x="940.5" dy="13">Paid</tspan><tspan x="940.5" dy="13">Rejected</tspan></text></g>

<g id="SimpleLossLine"><rect class="s" x="1022.5" y="1249.5" width="191" height="190.6"/><rect class="n B" x="1019.5" y="1246.5" width="191" height="190.6"/><line class="dv" x1="1019.5" y1="1273.7" x2="1210.5" y2="1273.7"/><text class="t" x="1115" y="1265.5">SimpleLossLine</text><text class="a"><tspan x="1025.3" y="1287.7">-</tspan><tspan x="1041.3">dateOfLoss :date</tspan><tspan x="1025.3" dy="13">-</tspan><tspan x="1041.3">lossDescription :string</tspan><tspan x="1025.3" dy="13">-</tspan><tspan x="1041.3">serviceProvider :string</tspan><tspan x="1025.3" dy="13">-</tspan><tspan x="1041.3">serviceProviderName :string</tspan><tspan x="1025.3" dy="13">-</tspan><tspan x="1041.3">levelOfCover :decimal</tspan><tspan x="1025.3" dy="13">-</tspan><tspan x="1041.3">limitDescription :string</tspan><tspan x="1025.3" dy="13">-</tspan><tspan x="1041.3">riskLimit :Currency</tspan><tspan x="1025.3" dy="13">-</tspan><tspan x="1041.3">prevClaimedRisk :Currency</tspan><tspan x="1025.3" dy="13">-</tspan><tspan x="1041.3">remarkCode :EnumRef</tspan><tspan x="1025.3" dy="13">-</tspan><tspan x="1041.3">description :string</tspan><tspan x="1025.3" dy="13">-</tspan><tspan x="1041.3">limitCategory :EnumRef</tspan><tspan x="1025.3" dy="13">-</tspan><tspan x="1041.3">excessDetails :ExcessDetail[]</tspan></text></g>

<g id="DaysInWeek_left"><rect class="s" x="279.3" y="1468.7" width="89.2" height="68.8"/><rect class="n Y" x="276.3" y="1465.7" width="89.2" height="68.8"/><line class="dv" x1="276.3" y1="1502.3" x2="365.5" y2="1502.3"/><text class="t" x="321" y="1481.9">«enumeratio...</text><text class="t" x="321" y="1494.6">DaysInWeek</text><text class="a"><tspan x="297.6" y="1516.3">5</tspan><tspan x="297.6" dy="13">7</tspan></text></g>

<g id="PaymentFrequency"><rect class="s" x="398" y="1531.6" width="99.4" height="83.3"/><rect class="n Y" x="395" y="1528.6" width="99.4" height="83.3"/><line class="dv" x1="395" y1="1565.7" x2="494.4" y2="1565.7"/><text class="t" x="444.7" y="1544.8">«enumeration»</text><text class="t" x="444.7" y="1558">PaymentFrequency</text><text class="a"><tspan x="415.4" y="1579.7">28 - Monthly</tspan><tspan x="415.4" dy="13">14 - Fortnightly</tspan><tspan x="415.4" dy="13">7 - Weekly</tspan></text></g>

<g id="Product_LimitType"><rect class="s" x="555.6" y="1436" width="109.5" height="66.2"/><rect class="n Y" x="552.6" y="1433" width="109.5" height="66.2"/><line class="dv" x1="552.6" y1="1469.7" x2="662.1" y2="1469.7"/><text class="t" x="607.4" y="1448.8">«enumeration»</text><text class="t" x="607.4" y="1461.5">Product: LimitType</text><text class="a" x="574.4" y="1483.7">Deferral period</text></g>

<g id="ClaimFinanceEntry"><rect class="s" x="28.7" y="1436.5" width="201.6" height="304.7"/><rect class="n B" x="25.7" y="1433.5" width="201.6" height="304.7"/><line class="dv" x1="25.7" y1="1470.6" x2="227.3" y2="1470.6"/><text class="t" x="126.5" y="1449.7">«abstract»</text><text class="t i" x="126.5" y="1461.5">ClaimFinanceEntry</text><text class="a"><tspan x="30.5" y="1484.6">-</tspan><tspan x="47.5">entryId :string</tspan><tspan x="30.5" dy="13">-</tspan><tspan x="47.5">transactionType :EnumRef</tspan><tspan x="30.5" dy="13">-</tspan><tspan x="47.5">entryState :EnumRef</tspan><tspan x="30.5" dy="13">-</tspan><tspan x="47.5">entryType :EnumRef</tspan><tspan x="30.5" dy="13">-</tspan><tspan x="47.5">amountAcc :Currency</tspan><tspan x="30.5" dy="13">-</tspan><tspan x="47.5">amountOutstanding :Currency</tspan><tspan x="30.5" dy="13">-</tspan><tspan x="47.5">docNumber :string</tspan><tspan x="30.5" dy="13">-</tspan><tspan x="47.5">amount :Currency</tspan><tspan x="30.5" dy="13">-</tspan><tspan x="47.5">dueDate :date</tspan><tspan x="30.5" dy="13">-</tspan><tspan x="47.5">creationDate :date</tspan><tspan x="30.5" dy="13">-</tspan><tspan x="47.5">reservedForAllocation</tspan><tspan x="30.5" dy="13">-</tspan><tspan x="47.5">allocationDate :date</tspan><tspan x="30.5" dy="13">-</tspan><tspan x="47.5">description :string</tspan><tspan x="30.5" dy="13">-</tspan><tspan x="47.5">payerOrPayee :string</tspan><tspan x="30.5" dy="13">-</tspan><tspan x="47.5">payerOrPayeeName :int</tspan><tspan x="30.5" dy="13">-</tspan><tspan x="47.5">amountExclGST :currency</tspan><tspan x="30.5" dy="13">-</tspan><tspan x="47.5">gst :currency</tspan><tspan x="30.5" dy="13">-</tspan><tspan x="47.5">itc :currency</tspan><tspan x="30.5" dy="13">-</tspan><tspan x="47.5">parentEntryId :string</tspan><tspan x="30.5" dy="13">-</tspan><tspan x="47.5">allocations :FinanceEntryAllocation[]</tspan></text></g>

<g id="ClaimRecovery"><rect class="s" x="206.6" y="1871.6" width="234.1" height="151.3"/><rect class="n B" x="203.6" y="1868.6" width="234.1" height="151.3"/><line class="dv" x1="203.6" y1="1895.4" x2="437.7" y2="1895.4"/><text class="t" x="320.7" y="1887.6">ClaimRecovery</text><text class="a"><tspan x="208.4" y="1909.8">-</tspan><tspan x="225.4">entryType :EnumRef = INV</tspan><tspan x="208.4" dy="13">-</tspan><tspan x="225.4">entryState :EnumRef = DRAFT</tspan><tspan x="208.4" dy="13">-</tspan><tspan x="225.4">transactionType :EnumRef</tspan><tspan x="208.4" dy="13">-</tspan><tspan x="225.4">transactionDateTime :datetime</tspan><tspan x="208.4" dy="13">-</tspan><tspan x="225.4">status :EnumRef</tspan><tspan x="208.4" dy="13">-</tspan><tspan x="225.4">referenceNo :string</tspan><tspan x="208.4" dy="13">-</tspan><tspan x="225.4">externalRefNo :string</tspan><tspan x="208.4" dy="13">-</tspan><tspan x="225.4">recoveryLines :RecoveryLine[]</tspan><tspan x="208.4" dy="13">-</tspan><tspan x="225.4">recoveryComment :string</tspan></text></g>

<g id="ClaimRecoveryStatus"><rect class="s" x="32.6" y="1987.6" width="112.9" height="83.3"/><rect class="n Y" x="29.6" y="1984.6" width="112.9" height="83.3"/><line class="dv" x1="29.6" y1="2021.7" x2="142.5" y2="2021.7"/><text class="t" x="86" y="2000.8">«enumeration»</text><text class="t" x="86" y="2013.9">ClaimRecoveryStatus</text><text class="a"><tspan x="51.4" y="2035.6">Initial</tspan><tspan x="51.4" dy="13">Saved</tspan><tspan x="51.4" dy="13">Receipted</tspan></text></g>

<g id="ClaimPayment"><rect class="s" x="572.6" y="1705.5" width="221.1" height="464"/><rect class="n B" x="569.6" y="1702.5" width="221.1" height="464"/><line class="dv" x1="569.6" y1="1729.2" x2="790.7" y2="1729.2"/><text class="t" x="680.1" y="1721.4">ClaimPayment</text><text class="a"><tspan x="575" y="1743.6">-</tspan><tspan x="591.4">entryId :string</tspan><tspan x="575" dy="13">-</tspan><tspan x="591.4">transactionType :EnumRef = CLM_EXP</tspan><tspan x="575" dy="13">-</tspan><tspan x="591.4">entryState :EnumRef = OPEN</tspan><tspan x="575" dy="13">-</tspan><tspan x="591.4">entryType :Enumref = PAY</tspan><tspan x="575" dy="13">-</tspan><tspan x="591.4">amountAcc :Currency</tspan><tspan x="575" dy="13">-</tspan><tspan x="591.4">amountOutstanding :Currency = amount</tspan><tspan x="575" dy="13">-</tspan><tspan x="591.4">docNumber :string</tspan><tspan x="575" dy="13">-</tspan><tspan x="591.4">amount :Currency</tspan><tspan x="575" dy="13">-</tspan><tspan x="591.4">dueDate :date</tspan><tspan x="575" dy="13">-</tspan><tspan x="591.4">creationDate :date</tspan><tspan x="575" dy="13">-</tspan><tspan x="591.4">reservedForAllocation</tspan><tspan x="575" dy="13">-</tspan><tspan x="591.4">allocationDate :date</tspan><tspan x="575" dy="13">-</tspan><tspan x="591.4">description :string</tspan><tspan x="575" dy="13">-</tspan><tspan x="591.4">payerOrPayee :string</tspan><tspan x="575" dy="13">-</tspan><tspan x="591.4">payerOrPayeeName :string</tspan><tspan x="575" dy="13">-</tspan><tspan x="591.4">lossLines :string[]</tspan><tspan x="575" dy="13">-</tspan><tspan x="591.4">simpleLossLines :int[]</tspan><tspan x="575" dy="13">-</tspan><tspan x="591.4">periodicLossLines :string[]</tspan><tspan x="575" dy="13">-</tspan><tspan x="591.4">createdBy :User</tspan><tspan x="575" dy="13">-</tspan><tspan x="591.4">approvedDate :datetime</tspan><tspan x="575" dy="13">-</tspan><tspan x="591.4">approvedBy :User</tspan><tspan x="575" dy="13">-</tspan><tspan x="591.4">authorisedDate :datetime</tspan><tspan x="575" dy="13">-</tspan><tspan x="591.4">authorisedBy :User</tspan><tspan x="575" dy="13">-</tspan><tspan x="591.4">status :EnumRef</tspan><tspan x="575" dy="13">-</tspan><tspan x="591.4">isFinalPayment :boolean</tspan><tspan x="575" dy="13">-</tspan><tspan x="591.4">remittanceId :string</tspan><tspan x="575" dy="13">-</tspan><tspan x="591.4">remittanceEmails :string[]</tspan><tspan x="575" dy="13">-</tspan><tspan x="591.4">remittanceComment :string</tspan><tspan x="575" dy="13">-</tspan><tspan x="591.4">groupedOn :string</tspan><tspan x="575" dy="13">-</tspan><tspan x="591.4">postingDate :date</tspan><tspan x="575" dy="13">-</tspan><tspan x="591.4">isReferralRequired :boolean</tspan><tspan x="575" dy="13">-</tspan><tspan x="591.4">referral :Referral</tspan><tspan x="575" dy="13">-</tspan><tspan x="591.4">exchangeRateDate :datetime</tspan></text></g>

<g id="RecoveryLine"><rect class="s" x="160.5" y="2116.4" width="201.2" height="112.6"/><rect class="n B" x="157.5" y="2113.4" width="201.2" height="112.6"/><line class="dv" x1="157.5" y1="2140.6" x2="358.7" y2="2140.6"/><text class="t" x="258.1" y="2132.6">RecoveryLine</text><text class="a"><tspan x="162.9" y="2154.8">-</tspan><tspan x="179.4">riskType :EnumRef</tspan><tspan x="162.9" dy="13">-</tspan><tspan x="179.4">amountRecovered :Currency</tspan><tspan x="162.9" dy="13">-</tspan><tspan x="179.4">amountRecoveredGST :Currency</tspan><tspan x="162.9" dy="13">-</tspan><tspan x="179.4">amountRecoveredInclGST :Currency</tspan><tspan x="162.9" dy="13">-</tspan><tspan x="179.4">claimantId :string</tspan><tspan x="162.9" dy="13">-</tspan><tspan x="179.4">claimantName :string</tspan></text></g>

<g id="Workflow_PaymentStatus"><rect class="s" x="653.5" y="2246.6" width="114" height="162.1"/><rect class="n G" x="650.5" y="2243.6" width="114" height="162.1"/><line class="dv" x1="650.5" y1="2293.5" x2="764.5" y2="2293.5"/><text class="t" x="707.5" y="2259.6">«enumeration»</text><text class="t" x="707.5" y="2272.5">Workflow:</text><text class="t" x="707.5" y="2285.9">PaymentStatus</text><text class="a"><tspan x="672.8" y="2307.6">Pending</tspan><tspan x="672.8" dy="13">Complete</tspan><tspan x="672.8" dy="13">Approved</tspan><tspan x="672.8" dy="13">Authorised</tspan><tspan x="672.8" dy="13">For Review</tspan><tspan x="672.8" dy="13">In Progress</tspan><tspan x="672.8" dy="13">Paid</tspan><tspan x="672.8" dy="13">Rejected</tspan></text></g>

<g id="FM_FinanceEntry"><rect class="s" x="605.5" y="2464.5" width="96" height="34.7"/><rect class="n G" x="602.5" y="2461.5" width="96" height="34.7"/><text class="t" x="650.5" y="2477.5">«interface»</text><text class="t" x="650.5" y="2490.5">FM: FinanceEntry</text></g>

<g id="CRM_ServiceProvider"><rect class="s" x="811.7" y="1502.6" width="89.1" height="39"/><rect class="n G" x="808.7" y="1499.6" width="89.1" height="39"/><text class="t" x="853.3" y="1518.6">CRM:</text><text class="t" x="853.3" y="1531.2">ServiceProvider</text></g>

<g id="ClaimRemarkCode"><rect class="s" x="914.4" y="1527.5" width="126" height="83.8"/><rect class="n Y" x="911.4" y="1524.5" width="126" height="83.8"/><line class="dv" x1="911.4" y1="1561.6" x2="1037.4" y2="1561.6"/><text class="t" x="974.4" y="1540.7">«enumeration»</text><text class="t" x="974.4" y="1553.4">ClaimRemarkCode</text><text class="a"><tspan x="933.7" y="1575.6">Outside policy period</tspan><tspan x="933.7" dy="13">Maximum benefit</tspan><tspan x="933.7" dy="13">...</tspan></text></g>

<g id="ExcessDetail"><rect class="s" x="1091.4" y="1526.6" width="121.6" height="57.1"/><rect class="n B" x="1088.4" y="1523.6" width="121.6" height="57.1"/><line class="dv" x1="1088.4" y1="1550.3" x2="1210" y2="1550.3"/><text class="t" x="1149.2" y="1542.6">ExcessDetail</text><text class="a"><tspan x="1093.7" y="1564.7">-</tspan><tspan x="1110.6">description :string</tspan><tspan x="1093.7" dy="13">-</tspan><tspan x="1110.6">value :Currency</tspan></text></g>

<g id="Product_LimitCategory"><rect class="s" x="1295.4" y="1468.7" width="89.2" height="49.3"/><rect class="n G" x="1292.4" y="1465.7" width="89.2" height="49.3"/><text class="t" x="1337" y="1481.9">«enumeratio...</text><text class="t" x="1337" y="1494.6">Product:</text><text class="t" x="1337" y="1507.7">LimitCategory</text></g>

<g id="PaymentType"><rect class="s" x="1299.3" y="1631.7" width="129.9" height="69.2"/><rect class="n Y" x="1296.3" y="1628.7" width="129.9" height="69.2"/><line class="dv" x1="1296.3" y1="1665.3" x2="1426.2" y2="1665.3"/><text class="t" x="1361.2" y="1644.9">«enumeration»</text><text class="t" x="1361.2" y="1658">PaymentType</text><text class="a"><tspan x="1318" y="1679.8">Local payment</tspan><tspan x="1318" dy="13">International payment</tspan></text></g>

<g id="AHIPaymentMethod"><rect class="s" x="1115.6" y="1669.2" width="117.8" height="96.9"/><rect class="n Y" x="1112.6" y="1666.2" width="117.8" height="96.9"/><line class="dv" x1="1112.6" y1="1703.4" x2="1230.4" y2="1703.4"/><text class="t" x="1171.5" y="1682.9">«enumeration»</text><text class="t" x="1171.5" y="1695.6">AHIPaymentMethod</text><text class="a"><tspan x="1134.4" y="1717.3">EFT</tspan><tspan x="1134.4" dy="13">Cheque</tspan><tspan x="1134.4" dy="13">ITT</tspan><tspan x="1134.4" dy="13">Draft</tspan></text></g>

<g id="PaymentAttributes_main"><rect class="s" x="1422.4" y="1809.2" width="186" height="137.6"/><rect class="n B" x="1419.4" y="1806.2" width="186" height="137.6"/><line class="dv" x1="1419.4" y1="1831.1" x2="1605.4" y2="1831.1"/><text class="t" x="1512.4" y="1823.7">PaymentAttributes</text><text class="a"><tspan x="1425.2" y="1845.5">-</tspan><tspan x="1441.7">address :Address</tspan><tspan x="1425.2" dy="13">-</tspan><tspan x="1441.7">paymentMethod :EnumRef</tspan><tspan x="1425.2" dy="13">-</tspan><tspan x="1441.7">paymentType :EnumRef</tspan><tspan x="1425.2" dy="13">-</tspan><tspan x="1441.7">payeeType :EnumRef</tspan><tspan x="1425.2" dy="13">-</tspan><tspan x="1441.7">referenceNo :string</tspan><tspan x="1425.2" dy="13">-</tspan><tspan x="1441.7">bankersRef :string</tspan><tspan x="1425.2" dy="13">-</tspan><tspan x="1441.7">paymentCurrencyCode :EnumRef</tspan><tspan x="1425.2" dy="13">-</tspan><tspan x="1441.7">beneficiaryPhoneNumber :string</tspan></text></g>

<g id="Note_Payee"><path d="M1259.5,1895.6 H1362.8 L1374.4,1907.2 V1979.4 H1259.5 Z" fill="#C4C4C4"/><path d="M1256.5,1892.6 H1359.8 L1371.4,1904.2 V1976.4 H1256.5 Z" fill="#F8F3F8" stroke="#000" stroke-width="1.2"/><path d="M1359.8,1892.6 V1904.2 H1371.4" fill="#D8D8D8" stroke="#000" stroke-width="1"/><text class="l"><tspan x="1261.4" y="1916.6">Payee might refer to a</tspan><tspan x="1261.4" dy="13">contact of type</tspan><tspan x="1261.4" dy="13">Brokerage, C.A.R.,</tspan><tspan x="1261.4" dy="13">Service provider or</tspan><tspan x="1261.4" dy="13">Claimant.</tspan></text></g>

<g id="CRM_Contact_low"><rect class="s" x="1173.7" y="1986.7" width="88.3" height="68.8"/><rect class="n G" x="1170.7" y="1983.7" width="88.3" height="68.8"/><line class="dv" x1="1170.7" y1="2019.9" x2="1259" y2="2019.9"/><text class="t" x="1214.9" y="1999.4">«abstract»</text><text class="t" x="1214.9" y="2012.6">CRM: Contact</text></g>

<g id="PayeeType"><rect class="s" x="1493.7" y="1607.7" width="112.7" height="96.9"/><rect class="n Y" x="1490.7" y="1604.7" width="112.7" height="96.9"/><line class="dv" x1="1490.7" y1="1641.3" x2="1603.4" y2="1641.3"/><text class="t" x="1547" y="1620.9">«enumeration»</text><text class="t" x="1547" y="1634">PayeeType</text><text class="a"><tspan x="1512.3" y="1655.8">Brokerage</tspan><tspan x="1512.3" dy="13">Service provider</tspan><tspan x="1512.3" dy="13">Claimant</tspan><tspan x="1512.3" dy="13">CorporateAuthRep</tspan></text></g>

<g id="EFTPayment"><rect class="s" x="1736.4" y="1641.6" width="193" height="53"/><rect class="n B" x="1733.4" y="1638.6" width="193" height="53"/><line class="dv" x1="1733.4" y1="1665.3" x2="1926.4" y2="1665.3"/><text class="t" x="1830" y="1657.6">EFTPayment</text><text class="a"><tspan x="1738.8" y="1679.8">-</tspan><tspan x="1755.5">bankDetails :BankDetailsDomestic</tspan></text></g>

<g id="ITTPayment"><rect class="s" x="1826.5" y="1747.6" width="165.9" height="54.3"/><rect class="n B" x="1823.5" y="1744.6" width="165.9" height="54.3"/><line class="dv" x1="1823.5" y1="1771.3" x2="1989.4" y2="1771.3"/><text class="t" x="1906.5" y="1763.5">ITTPayment</text><text class="a"><tspan x="1828.9" y="1785.7">-</tspan><tspan x="1845.6">bankDetails :BankDetailsIntl</tspan></text></g>

<g id="DraftPayment"><rect class="s" x="1842.7" y="1858.5" width="154.1" height="54.8"/><rect class="n B" x="1839.7" y="1855.5" width="154.1" height="54.8"/><line class="dv" x1="1839.7" y1="1882.2" x2="1993.8" y2="1882.2"/><text class="t" x="1916.7" y="1874.5">DraftPayment</text><text class="a"><tspan x="1845.2" y="1896.6">-</tspan><tspan x="1861.4">bankDetail :BankDetailsIntl</tspan></text></g>

<g id="Address"><rect class="s" x="1855.5" y="1941.4" width="130" height="138.5"/><rect class="n B" x="1852.5" y="1938.4" width="130" height="138.5"/><line class="dv" x1="1852.5" y1="1965.5" x2="1982.5" y2="1965.5"/><text class="t" x="1917.5" y="1957.3">Address</text><text class="a"><tspan x="1858" y="1980">-</tspan><tspan x="1874.7">address1 :string</tspan><tspan x="1858" dy="13">-</tspan><tspan x="1874.7">address2 :string</tspan><tspan x="1858" dy="13">-</tspan><tspan x="1874.7">postCode :string</tspan><tspan x="1858" dy="13">-</tspan><tspan x="1874.7">city :string</tspan><tspan x="1858" dy="13">-</tspan><tspan x="1874.7">state :string</tspan><tspan x="1858" dy="13">-</tspan><tspan x="1874.7">country :EnumRef</tspan><tspan x="1858" dy="13">-</tspan><tspan x="1874.7">postcodeId :EnumRef</tspan><tspan x="1858" dy="13">-</tspan><tspan x="1874.7">stateId :EnumRef</tspan></text></g>

<g id="ChequePayment"><rect class="s" x="1607.4" y="2047.3" width="108.3" height="50.7"/><rect class="n B" x="1604.4" y="2044.3" width="108.3" height="50.7"/><line class="dv" x1="1604.4" y1="2071" x2="1712.7" y2="2071"/><text class="t" x="1658.5" y="2063.3">ChequePayment</text><text class="a"><tspan x="1609.3" y="2085.4">-</tspan><tspan x="1626.5">chequeNo :string</tspan></text></g>

<g id="PaymentAttributes_lower"><rect class="s" x="1245.5" y="2453.5" width="200.2" height="151.5"/><rect class="n B" x="1242.5" y="2450.5" width="200.2" height="151.5"/><line class="dv" x1="1242.5" y1="2477.2" x2="1442.7" y2="2477.2"/><text class="t" x="1342.6" y="2469.2">PaymentAttributes</text><text class="a"><tspan x="1247.8" y="2491.4">-</tspan><tspan x="1264.8">address :Address</tspan><tspan x="1247.8" dy="13">-</tspan><tspan x="1264.8">paymentMethod :EnumRef</tspan><tspan x="1247.8" dy="13">-</tspan><tspan x="1264.8">paymentType :EnumRef</tspan><tspan x="1247.8" dy="13">-</tspan><tspan x="1264.8">referenceNo :string</tspan><tspan x="1247.8" dy="13">-</tspan><tspan x="1264.8">eftBankDetails :BankDetailsDomestic</tspan><tspan x="1247.8" dy="13">-</tspan><tspan x="1264.8">ittBankDetails :BankDetailsIntl</tspan><tspan x="1247.8" dy="13">-</tspan><tspan x="1264.8">draftBankDetials :BankDetailsIntl</tspan><tspan x="1247.8" dy="13">-</tspan><tspan x="1264.8">cheqeNo :string</tspan></text></g>

<g id="PremiumCollection_BankFile"><rect class="s" x="1290.6" y="2719.4" width="191.9" height="26.8"/><rect class="n G" x="1287.6" y="2716.4" width="191.9" height="26.8"/><text class="t" x="1383.5" y="2735.2">PremiumCollection : BankFile</text></g>

<g id="PlainFinanceEntryGroup"><rect class="s" x="1514.3" y="2172.7" width="211.2" height="76.7"/><rect class="n B" x="1511.3" y="2169.7" width="211.2" height="76.7"/><line class="dv" x1="1511.3" y1="2196.5" x2="1722.5" y2="2196.5"/><text class="t" x="1617" y="2188.5">PlainFinanceEntryGroup</text><text class="a"><tspan x="1516.7" y="2210.7">-</tspan><tspan x="1533.5">groupedEntryEntity :string</tspan><tspan x="1516.7" dy="13">-</tspan><tspan x="1533.5">groupedEntry :string</tspan><tspan x="1516.7" dy="13">-</tspan><tspan x="1533.5">groupedEntryType :EnumRef = CLAIM</tspan></text></g>

<g id="FM_FMEntityType"><rect class="s" x="1775.3" y="2208.3" width="113.2" height="34.1"/><rect class="n Y" x="1772.3" y="2205.3" width="113.2" height="34.1"/><text class="t" x="1829" y="2221.7">«enumeration»</text><text class="t" x="1829" y="2234.7">FM: FMEntityType</text></g>

<g id="PlainFinanceEntry"><rect class="s" x="1492.7" y="2295.5" width="214.6" height="255.4"/><rect class="n B" x="1489.7" y="2292.5" width="214.6" height="255.4"/><line class="dv" x1="1489.7" y1="2319.3" x2="1704.3" y2="2319.3"/><text class="t" x="1597" y="2311.8">PlainFinanceEntry</text><text class="a"><tspan x="1494.5" y="2333.5">-</tspan><tspan x="1511.3">entryId :string</tspan><tspan x="1494.5" dy="13">-</tspan><tspan x="1511.3">transactionType :EnumRef = CLM_EXP</tspan><tspan x="1494.5" dy="13">-</tspan><tspan x="1511.3">entryState :EnumRef = OPEN</tspan><tspan x="1494.5" dy="13">-</tspan><tspan x="1511.3">entryType :EnumRef = CN</tspan><tspan x="1494.5" dy="13">-</tspan><tspan x="1511.3">amountAcc :Currency</tspan><tspan x="1494.5" dy="13">-</tspan><tspan x="1511.3">amountOutstanding :Currency</tspan><tspan x="1494.5" dy="13">-</tspan><tspan x="1511.3">docNumber :string</tspan><tspan x="1494.5" dy="13">-</tspan><tspan x="1511.3">amount :Currency</tspan><tspan x="1494.5" dy="13">-</tspan><tspan x="1511.3">dueDate :date</tspan><tspan x="1494.5" dy="13">-</tspan><tspan x="1511.3">creationDate :date</tspan><tspan x="1494.5" dy="13">-</tspan><tspan x="1511.3">reservedForAllocation</tspan><tspan x="1494.5" dy="13">-</tspan><tspan x="1511.3">allocationDate :date</tspan><tspan x="1494.5" dy="13">-</tspan><tspan x="1511.3">description :string</tspan><tspan x="1494.5" dy="13">-</tspan><tspan x="1511.3">payerOrPayee :string</tspan><tspan x="1494.5" dy="13">-</tspan><tspan x="1511.3">payerOrPayeeName :string</tspan><tspan x="1494.5" dy="13">-</tspan><tspan x="1511.3">allocations :FinanceEntryAllocation[]</tspan></text></g>

<g id="FM_BankFinanceEntry"><rect class="s" x="1809.7" y="2265.5" width="119.2" height="26.8"/><rect class="n G" x="1806.7" y="2262.5" width="119.2" height="26.8"/><text class="t" x="1866.3" y="2281.8">FM: BankFinanceEntry</text></g>

<g id="FM_FinanceEntryAllocation_upper"><rect class="s" x="1767.4" y="2342.6" width="149.2" height="27.3"/><rect class="n G" x="1764.4" y="2339.6" width="149.2" height="27.3"/><text class="t" x="1839" y="2358.9">FM: FinanceEntryAllocation</text></g>

<g id="FM_FinanceEntryAllocation_lower"><rect class="s" x="1759.5" y="2472.4" width="147.2" height="27.2"/><rect class="n G" x="1756.5" y="2469.4" width="147.2" height="27.2"/><text class="t" x="1830.1" y="2488.2">FM: FinanceEntryAllocation</text></g>

<g id="ClaimBankFinanceEntry"><rect class="s" x="1997.3" y="2328.3" width="215.2" height="243.4"/><rect class="n B" x="1994.3" y="2325.3" width="215.2" height="243.4"/><line class="dv" x1="1994.3" y1="2352.6" x2="2209.5" y2="2352.6"/><text class="t" x="2101.9" y="2344.6">ClaimBankFinanceEntry</text><text class="a"><tspan x="1999.8" y="2366.7">-</tspan><tspan x="2016.5">entryId :string</tspan><tspan x="1999.8" dy="13">-</tspan><tspan x="2016.5">transactionType :EnumRef = CLM_PAY</tspan><tspan x="1999.8" dy="13">-</tspan><tspan x="2016.5">entryState :EnumRef = CONFIRMED</tspan><tspan x="1999.8" dy="13">-</tspan><tspan x="2016.5">entryType :EnumRef = RF</tspan><tspan x="1999.8" dy="13">-</tspan><tspan x="2016.5">amountAcc :Currency</tspan><tspan x="1999.8" dy="13">-</tspan><tspan x="2016.5">amountOutstanding :Currency</tspan><tspan x="1999.8" dy="13">-</tspan><tspan x="2016.5">docNumber :string</tspan><tspan x="1999.8" dy="13">-</tspan><tspan x="2016.5">amount :Currency</tspan><tspan x="1999.8" dy="13">-</tspan><tspan x="2016.5">dueDate :date</tspan><tspan x="1999.8" dy="13">-</tspan><tspan x="2016.5">creationDate :date</tspan><tspan x="1999.8" dy="13">-</tspan><tspan x="2016.5">reservedForAllocation</tspan><tspan x="1999.8" dy="13">-</tspan><tspan x="2016.5">allocationDate :date</tspan><tspan x="1999.8" dy="13">-</tspan><tspan x="2016.5">description :string</tspan><tspan x="1999.8" dy="13">-</tspan><tspan x="2016.5">payerOrPayee :string</tspan><tspan x="1999.8" dy="13">-</tspan><tspan x="2016.5">payerOrPayeeName :string</tspan><tspan x="1999.8" dy="13">-</tspan><tspan x="2016.5">paymentRunId :string</tspan></text></g>

<g id="PaymentAttributes_br"><rect class="s" x="2049.5" y="2630.3" width="199.4" height="139"/><rect class="n B" x="2046.5" y="2627.3" width="199.4" height="139"/><line class="dv" x1="2046.5" y1="2654.5" x2="2245.9" y2="2654.5"/><text class="t" x="2146.2" y="2646">PaymentAttributes</text><text class="a"><tspan x="2052" y="2668.3">-</tspan><tspan x="2068.7">address :Address</tspan><tspan x="2052" dy="13">-</tspan><tspan x="2068.7">paymentMethod :EnumRef</tspan><tspan x="2052" dy="13">-</tspan><tspan x="2068.7">paymentType :EnumRef</tspan><tspan x="2052" dy="13">-</tspan><tspan x="2068.7">referenceNo :string</tspan><tspan x="2052" dy="13">-</tspan><tspan x="2068.7">eftBankDetails :BankDetailsDomestic</tspan><tspan x="2052" dy="13">-</tspan><tspan x="2068.7">ittBankDetails :BankDetailsIntl</tspan><tspan x="2052" dy="13">-</tspan><tspan x="2068.7">draftBankDetails :BankDetailsIntl</tspan><tspan x="2052" dy="13">-</tspan><tspan x="2068.7">chequeNo :string</tspan></text></g>

<g id="PremiumCollection_PaymentFile"><rect class="s" x="1640.4" y="2662.6" width="243.2" height="138.6"/><rect class="n G" x="1637.4" y="2659.6" width="243.2" height="138.6"/><line class="dv" x1="1637.4" y1="2686.4" x2="1880.6" y2="2686.4"/><text class="t" x="1759" y="2678.4">PremiumCollection : PaymentFile</text><text class="a"><tspan x="1642.8" y="2700.6">-</tspan><tspan x="1659.5">referenceNumber :string</tspan><tspan x="1642.8" dy="13">-</tspan><tspan x="1662">bankConfigId : EnumRef</tspan><tspan x="1642.8" dy="13">-</tspan><tspan x="1659.5">paymentMethod :EnumRef = DIRECT_DEBIT</tspan><tspan x="1642.8" dy="13">-</tspan><tspan x="1659.5">isRefund :boolean</tspan><tspan x="1642.8" dy="13">-</tspan><tspan x="1659.5">businessArea :EnumRef = CLAIM</tspan><tspan x="1642.8" dy="13">-</tspan><tspan x="1659.5">status :EnumRef</tspan><tspan x="1642.8" dy="13">-</tspan><tspan x="1659.5">createdBy :EnumRef(User)</tspan><tspan x="1642.8" dy="13">-</tspan><tspan x="1659.5">createdDateTime :datetime</tspan></text></g>
</svg>
